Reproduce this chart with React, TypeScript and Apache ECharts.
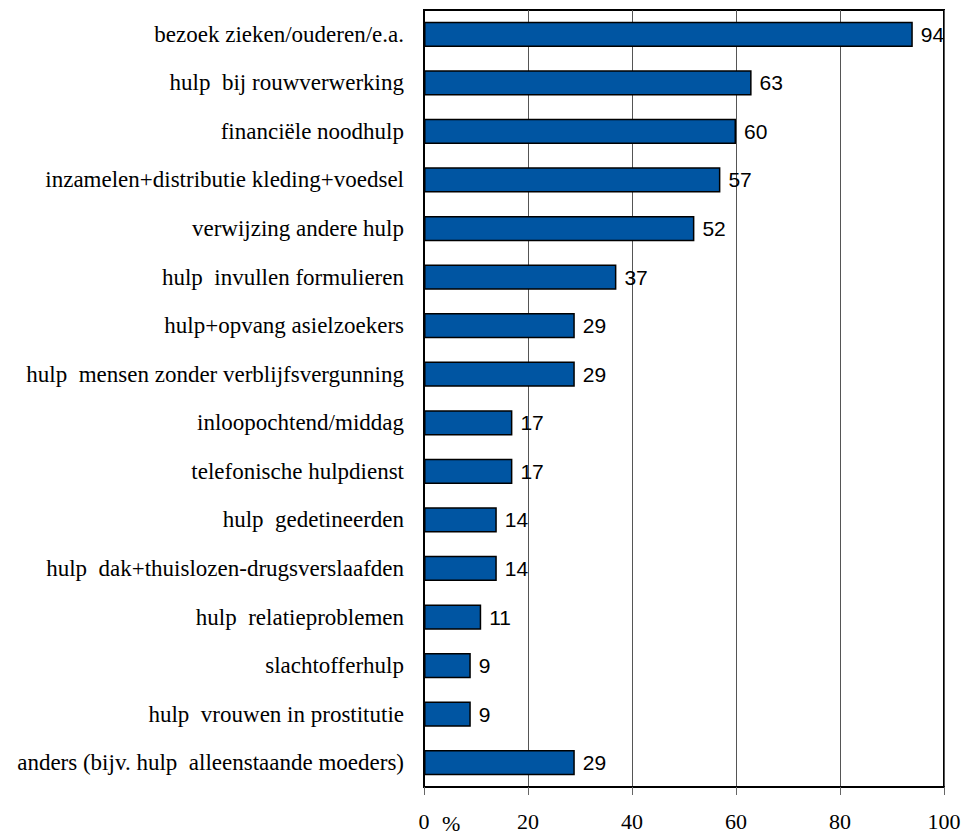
import React, { useEffect, useRef } from "react";
import * as echarts from "echarts";

const categories = [
  "bezoek zieken/ouderen/e.a.",
  "hulp  bij rouwverwerking",
  "financiële noodhulp",
  "inzamelen+distributie kleding+voedsel",
  "verwijzing andere hulp",
  "hulp  invullen formulieren",
  "hulp+opvang asielzoekers",
  "hulp  mensen zonder verblijfsvergunning",
  "inloopochtend/middag",
  "telefonische hulpdienst",
  "hulp  gedetineerden",
  "hulp  dak+thuislozen-drugsverslaafden",
  "hulp  relatieproblemen",
  "slachtofferhulp",
  "hulp  vrouwen in prostitutie",
  "anders (bijv. hulp  alleenstaande moeders)",
];
const values = [94, 63, 60, 57, 52, 37, 29, 29, 17, 17, 14, 14, 11, 9, 9, 29];
const xTicks = [0, 20, 40, 60, 80, 100];

const SERIF = "'Liberation Serif', 'Times New Roman', Times, serif";
const SANS = "'Liberation Sans', Arial, Helvetica, sans-serif";

export default function App() {
  const ref = useRef<HTMLDivElement>(null);
  useEffect(() => {
    if (!ref.current) return;
    const chart = echarts.init(ref.current, null, { renderer: "svg" });
    chart.setOption({
      animation: false,
      backgroundColor: "#ffffff",
      grid: {
        left: 424,
        right: 20,
        top: 10,
        bottom: 48,
        show: true,
        borderColor: "#000",
        borderWidth: 2,
        backgroundColor: "transparent",
      },
      xAxis: {
        type: "value",
        min: xTicks[0],
        max: xTicks[xTicks.length - 1],
        interval: 20,
        axisLine: { show: true, lineStyle: { color: "#000", width: 2 } },
        axisTick: { show: true, length: 8, lineStyle: { color: "#666", width: 1 } },
        splitLine: { show: true, lineStyle: { color: "#555", width: 1 } },
        axisLabel: {
          margin: 23,
          fontFamily: SERIF,
          fontSize: 22,
          color: "#000",
        },
      },
      yAxis: {
        type: "category",
        data: categories,
        inverse: true,
        axisLine: { show: true, lineStyle: { color: "#000", width: 2 } },
        axisTick: { show: false },
        splitLine: { show: false },
        axisLabel: {
          margin: 20,
          fontFamily: SERIF,
          fontSize: 23,
          color: "#000",
        },
      },
      graphic: [
        {
          type: "text",
          left: 442,
          top: 812,
          style: { text: "%", font: "22px " + SERIF, fill: "#000" },
        },
      ],
      series: [
        {
          type: "bar",
          data: values,
          barWidth: "52%",
          itemStyle: { color: "#0055A2", borderColor: "#000", borderWidth: 1.5 },
          label: {
            show: true,
            position: "right",
            distance: 8,
            fontFamily: SANS,
            fontSize: 21,
            color: "#000",
          },
        },
      ],
    });
    return () => chart.dispose();
  }, []);
  return <div ref={ref} style={{ width: 964, height: 835, position: "absolute", left: 0, top: 0 }} />;
}
